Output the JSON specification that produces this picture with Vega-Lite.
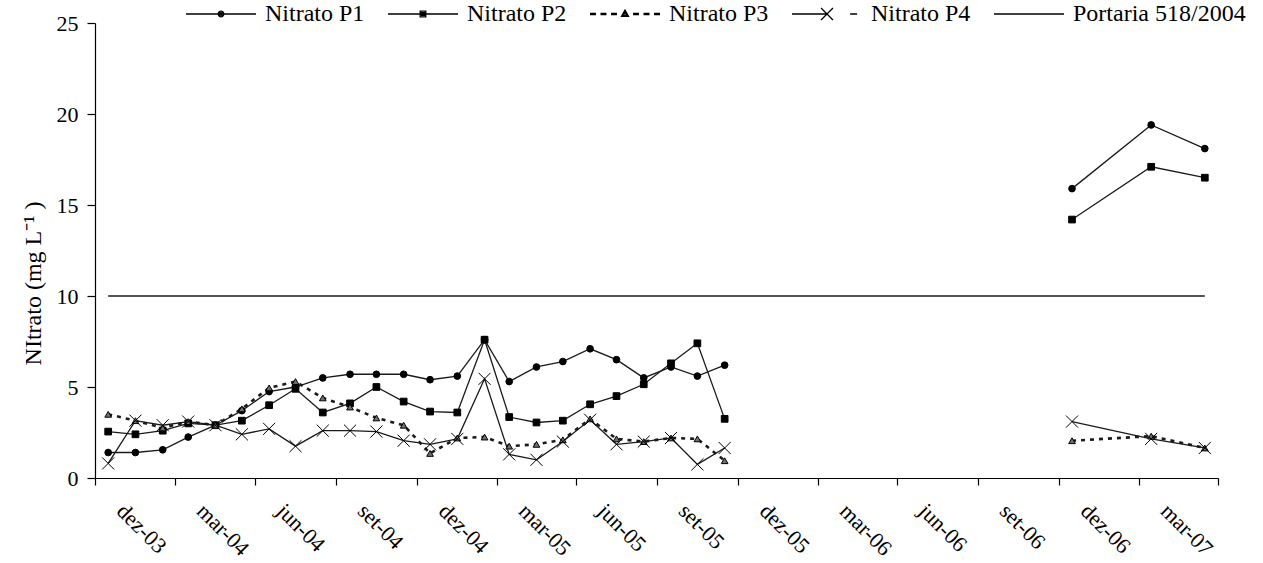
{
  "$schema": "https://vega.github.io/schema/vega-lite/v6.json",
  "width": 1123,
  "height": 455,
  "autosize": {"type": "none"},
  "padding": {"left": 95, "top": 23, "right": 45, "bottom": 85},
  "background": "white",
  "config": {"view": {"stroke": null}, "font": "Liberation Serif"},
  "datasets": {
    "nitrato": [
      {"mes": "2003-12-01", "serie": "Nitrato P1", "valor": 1.4, "campanha": 1},
      {"mes": "2004-01-01", "serie": "Nitrato P1", "valor": 1.4, "campanha": 1},
      {"mes": "2004-02-01", "serie": "Nitrato P1", "valor": 1.55, "campanha": 1},
      {"mes": "2004-03-01", "serie": "Nitrato P1", "valor": 2.25, "campanha": 1},
      {"mes": "2004-04-01", "serie": "Nitrato P1", "valor": 2.9, "campanha": 1},
      {"mes": "2004-05-01", "serie": "Nitrato P1", "valor": 3.7, "campanha": 1},
      {"mes": "2004-06-01", "serie": "Nitrato P1", "valor": 4.75, "campanha": 1},
      {"mes": "2004-07-01", "serie": "Nitrato P1", "valor": 5.0, "campanha": 1},
      {"mes": "2004-08-01", "serie": "Nitrato P1", "valor": 5.5, "campanha": 1},
      {"mes": "2004-09-01", "serie": "Nitrato P1", "valor": 5.7, "campanha": 1},
      {"mes": "2004-10-01", "serie": "Nitrato P1", "valor": 5.7, "campanha": 1},
      {"mes": "2004-11-01", "serie": "Nitrato P1", "valor": 5.7, "campanha": 1},
      {"mes": "2004-12-01", "serie": "Nitrato P1", "valor": 5.4, "campanha": 1},
      {"mes": "2005-01-01", "serie": "Nitrato P1", "valor": 5.6, "campanha": 1},
      {"mes": "2005-02-01", "serie": "Nitrato P1", "valor": 7.6, "campanha": 1},
      {"mes": "2005-03-01", "serie": "Nitrato P1", "valor": 5.3, "campanha": 1},
      {"mes": "2005-04-01", "serie": "Nitrato P1", "valor": 6.1, "campanha": 1},
      {"mes": "2005-05-01", "serie": "Nitrato P1", "valor": 6.4, "campanha": 1},
      {"mes": "2005-06-01", "serie": "Nitrato P1", "valor": 7.1, "campanha": 1},
      {"mes": "2005-07-01", "serie": "Nitrato P1", "valor": 6.5, "campanha": 1},
      {"mes": "2005-08-01", "serie": "Nitrato P1", "valor": 5.5, "campanha": 1},
      {"mes": "2005-09-01", "serie": "Nitrato P1", "valor": 6.1, "campanha": 1},
      {"mes": "2005-10-01", "serie": "Nitrato P1", "valor": 5.6, "campanha": 1},
      {"mes": "2005-11-01", "serie": "Nitrato P1", "valor": 6.2, "campanha": 1},
      {"mes": "2006-12-01", "serie": "Nitrato P1", "valor": 15.9, "campanha": 2},
      {"mes": "2007-03-01", "serie": "Nitrato P1", "valor": 19.4, "campanha": 2},
      {"mes": "2007-05-01", "serie": "Nitrato P1", "valor": 18.1, "campanha": 2},

      {"mes": "2003-12-01", "serie": "Nitrato P2", "valor": 2.55, "campanha": 1},
      {"mes": "2004-01-01", "serie": "Nitrato P2", "valor": 2.4, "campanha": 1},
      {"mes": "2004-02-01", "serie": "Nitrato P2", "valor": 2.6, "campanha": 1},
      {"mes": "2004-03-01", "serie": "Nitrato P2", "valor": 3.0, "campanha": 1},
      {"mes": "2004-04-01", "serie": "Nitrato P2", "valor": 2.9, "campanha": 1},
      {"mes": "2004-05-01", "serie": "Nitrato P2", "valor": 3.15, "campanha": 1},
      {"mes": "2004-06-01", "serie": "Nitrato P2", "valor": 4.0, "campanha": 1},
      {"mes": "2004-07-01", "serie": "Nitrato P2", "valor": 4.9, "campanha": 1},
      {"mes": "2004-08-01", "serie": "Nitrato P2", "valor": 3.6, "campanha": 1},
      {"mes": "2004-09-01", "serie": "Nitrato P2", "valor": 4.1, "campanha": 1},
      {"mes": "2004-10-01", "serie": "Nitrato P2", "valor": 5.0, "campanha": 1},
      {"mes": "2004-11-01", "serie": "Nitrato P2", "valor": 4.2, "campanha": 1},
      {"mes": "2004-12-01", "serie": "Nitrato P2", "valor": 3.65, "campanha": 1},
      {"mes": "2005-01-01", "serie": "Nitrato P2", "valor": 3.6, "campanha": 1},
      {"mes": "2005-02-01", "serie": "Nitrato P2", "valor": 7.6, "campanha": 1},
      {"mes": "2005-03-01", "serie": "Nitrato P2", "valor": 3.35, "campanha": 1},
      {"mes": "2005-04-01", "serie": "Nitrato P2", "valor": 3.05, "campanha": 1},
      {"mes": "2005-05-01", "serie": "Nitrato P2", "valor": 3.15, "campanha": 1},
      {"mes": "2005-06-01", "serie": "Nitrato P2", "valor": 4.05, "campanha": 1},
      {"mes": "2005-07-01", "serie": "Nitrato P2", "valor": 4.5, "campanha": 1},
      {"mes": "2005-08-01", "serie": "Nitrato P2", "valor": 5.15, "campanha": 1},
      {"mes": "2005-09-01", "serie": "Nitrato P2", "valor": 6.3, "campanha": 1},
      {"mes": "2005-10-01", "serie": "Nitrato P2", "valor": 7.4, "campanha": 1},
      {"mes": "2005-11-01", "serie": "Nitrato P2", "valor": 3.25, "campanha": 1},
      {"mes": "2006-12-01", "serie": "Nitrato P2", "valor": 14.2, "campanha": 2},
      {"mes": "2007-03-01", "serie": "Nitrato P2", "valor": 17.1, "campanha": 2},
      {"mes": "2007-05-01", "serie": "Nitrato P2", "valor": 16.5, "campanha": 2},

      {"mes": "2003-12-01", "serie": "Nitrato P3", "valor": 3.5, "campanha": 1},
      {"mes": "2004-01-01", "serie": "Nitrato P3", "valor": 3.15, "campanha": 1},
      {"mes": "2004-02-01", "serie": "Nitrato P3", "valor": 2.75, "campanha": 1},
      {"mes": "2004-03-01", "serie": "Nitrato P3", "valor": 3.1, "campanha": 1},
      {"mes": "2004-04-01", "serie": "Nitrato P3", "valor": 2.9, "campanha": 1},
      {"mes": "2004-05-01", "serie": "Nitrato P3", "valor": 3.8, "campanha": 1},
      {"mes": "2004-06-01", "serie": "Nitrato P3", "valor": 4.95, "campanha": 1},
      {"mes": "2004-07-01", "serie": "Nitrato P3", "valor": 5.3, "campanha": 1},
      {"mes": "2004-08-01", "serie": "Nitrato P3", "valor": 4.4, "campanha": 1},
      {"mes": "2004-09-01", "serie": "Nitrato P3", "valor": 3.9, "campanha": 1},
      {"mes": "2004-10-01", "serie": "Nitrato P3", "valor": 3.3, "campanha": 1},
      {"mes": "2004-11-01", "serie": "Nitrato P3", "valor": 2.9, "campanha": 1},
      {"mes": "2004-12-01", "serie": "Nitrato P3", "valor": 1.35, "campanha": 1},
      {"mes": "2005-01-01", "serie": "Nitrato P3", "valor": 2.2, "campanha": 1},
      {"mes": "2005-02-01", "serie": "Nitrato P3", "valor": 2.25, "campanha": 1},
      {"mes": "2005-03-01", "serie": "Nitrato P3", "valor": 1.75, "campanha": 1},
      {"mes": "2005-04-01", "serie": "Nitrato P3", "valor": 1.85, "campanha": 1},
      {"mes": "2005-05-01", "serie": "Nitrato P3", "valor": 2.1, "campanha": 1},
      {"mes": "2005-06-01", "serie": "Nitrato P3", "valor": 3.25, "campanha": 1},
      {"mes": "2005-07-01", "serie": "Nitrato P3", "valor": 2.15, "campanha": 1},
      {"mes": "2005-08-01", "serie": "Nitrato P3", "valor": 2.0, "campanha": 1},
      {"mes": "2005-09-01", "serie": "Nitrato P3", "valor": 2.2, "campanha": 1},
      {"mes": "2005-10-01", "serie": "Nitrato P3", "valor": 2.15, "campanha": 1},
      {"mes": "2005-11-01", "serie": "Nitrato P3", "valor": 0.95, "campanha": 1},
      {"mes": "2006-12-01", "serie": "Nitrato P3", "valor": 2.05, "campanha": 2},
      {"mes": "2007-03-01", "serie": "Nitrato P3", "valor": 2.3, "campanha": 2},
      {"mes": "2007-05-01", "serie": "Nitrato P3", "valor": 1.65, "campanha": 2},

      {"mes": "2003-12-01", "serie": "Nitrato P4", "valor": 0.8, "campanha": 1},
      {"mes": "2004-01-01", "serie": "Nitrato P4", "valor": 3.15, "campanha": 1},
      {"mes": "2004-02-01", "serie": "Nitrato P4", "valor": 2.9, "campanha": 1},
      {"mes": "2004-03-01", "serie": "Nitrato P4", "valor": 3.1, "campanha": 1},
      {"mes": "2004-04-01", "serie": "Nitrato P4", "valor": 2.9, "campanha": 1},
      {"mes": "2004-05-01", "serie": "Nitrato P4", "valor": 2.4, "campanha": 1},
      {"mes": "2004-06-01", "serie": "Nitrato P4", "valor": 2.7, "campanha": 1},
      {"mes": "2004-07-01", "serie": "Nitrato P4", "valor": 1.75, "campanha": 1},
      {"mes": "2004-08-01", "serie": "Nitrato P4", "valor": 2.6, "campanha": 1},
      {"mes": "2004-09-01", "serie": "Nitrato P4", "valor": 2.6, "campanha": 1},
      {"mes": "2004-10-01", "serie": "Nitrato P4", "valor": 2.55, "campanha": 1},
      {"mes": "2004-11-01", "serie": "Nitrato P4", "valor": 2.05, "campanha": 1},
      {"mes": "2004-12-01", "serie": "Nitrato P4", "valor": 1.85, "campanha": 1},
      {"mes": "2005-01-01", "serie": "Nitrato P4", "valor": 2.15, "campanha": 1},
      {"mes": "2005-02-01", "serie": "Nitrato P4", "valor": 5.45, "campanha": 1},
      {"mes": "2005-03-01", "serie": "Nitrato P4", "valor": 1.3, "campanha": 1},
      {"mes": "2005-04-01", "serie": "Nitrato P4", "valor": 1.0, "campanha": 1},
      {"mes": "2005-05-01", "serie": "Nitrato P4", "valor": 2.0, "campanha": 1},
      {"mes": "2005-06-01", "serie": "Nitrato P4", "valor": 3.2, "campanha": 1},
      {"mes": "2005-07-01", "serie": "Nitrato P4", "valor": 1.85, "campanha": 1},
      {"mes": "2005-08-01", "serie": "Nitrato P4", "valor": 2.0, "campanha": 1},
      {"mes": "2005-09-01", "serie": "Nitrato P4", "valor": 2.2, "campanha": 1},
      {"mes": "2005-10-01", "serie": "Nitrato P4", "valor": 0.75, "campanha": 1},
      {"mes": "2005-11-01", "serie": "Nitrato P4", "valor": 1.65, "campanha": 1},
      {"mes": "2006-12-01", "serie": "Nitrato P4", "valor": 3.1, "campanha": 2},
      {"mes": "2007-03-01", "serie": "Nitrato P4", "valor": 2.15, "campanha": 2},
      {"mes": "2007-05-01", "serie": "Nitrato P4", "valor": 1.65, "campanha": 2},

      {"mes": "2003-12-01", "serie": "Portaria 518/2004", "valor": 10, "campanha": 1},
      {"mes": "2007-05-01", "serie": "Portaria 518/2004", "valor": 10, "campanha": 1}
    ]
  },
  "data": {"name": "nitrato"},
  "encoding": {
    "x": {
      "field": "mes",
      "type": "temporal",
      "scale": {
        "type": "utc",
        "domain": [
          {"year": 2003, "month": 11, "date": 16, "utc": true},
          {"year": 2007, "month": 5, "date": 16, "utc": true}
        ]
      },
      "axis": {
        "title": null,
        "grid": false,
        "values": [
          {"year": 2003, "month": 11, "date": 16, "utc": true},
          {"year": 2004, "month": 2, "date": 15, "utc": true},
          {"year": 2004, "month": 5, "date": 16, "utc": true},
          {"year": 2004, "month": 8, "date": 16, "utc": true},
          {"year": 2004, "month": 11, "date": 16, "utc": true},
          {"year": 2005, "month": 2, "date": 15, "utc": true},
          {"year": 2005, "month": 5, "date": 16, "utc": true},
          {"year": 2005, "month": 8, "date": 16, "utc": true},
          {"year": 2005, "month": 11, "date": 16, "utc": true},
          {"year": 2006, "month": 2, "date": 15, "utc": true},
          {"year": 2006, "month": 5, "date": 16, "utc": true},
          {"year": 2006, "month": 8, "date": 16, "utc": true},
          {"year": 2006, "month": 11, "date": 16, "utc": true},
          {"year": 2007, "month": 2, "date": 15, "utc": true},
          {"year": 2007, "month": 5, "date": 16, "utc": true}
        ],
        "labelExpr": "utcyear(time(datum.value)) == 2007 && utcmonth(time(datum.value)) == 4 ? '' : ['jan','fev','mar','abr','mai','jun','jul','ago','set','out','nov','dez'][utcmonth(time(datum.value) + 1728000000)] + '-' + utcFormat(time(datum.value) + 1728000000, '%y')",
        "labelAngle": 45,
        "labelAlign": "left",
        "labelBaseline": "middle",
        "labelOffset": 25,
        "labelPadding": 22,
        "labelFont": "Liberation Serif",
        "labelFontSize": 22,
        "labelColor": "black",
        "labelOverlap": false,
        "labelBound": false,
        "labelFlush": false,
        "tickSize": 7,
        "tickColor": "black",
        "domainColor": "black",
        "tickWidth": 1.2,
        "domainWidth": 1.2
      }
    },
    "y": {
      "field": "valor",
      "type": "quantitative",
      "scale": {"domain": [0, 25], "nice": false, "zero": true},
      "axis": {
        "title": "NItrato (mg L⁻¹ )",
        "titleFont": "Liberation Serif",
        "titleFontSize": 24,
        "titleFontWeight": "normal",
        "titleColor": "black",
        "titlePadding": 11,
        "titleY": 260,
        "grid": false,
        "values": [0, 5, 10, 15, 20, 25],
        "labelFont": "Liberation Serif",
        "labelFontSize": 22,
        "labelColor": "black",
        "labelPadding": 9,
        "tickSize": 8,
        "tickColor": "black",
        "domainColor": "black",
        "tickWidth": 1.2,
        "domainWidth": 1.2
      }
    }
  },
  "layer": [
    {
      "transform": [{"filter": "datum.serie !== 'Nitrato P3'"}],
      "mark": {"type": "line", "color": "#1a1a1a", "strokeWidth": 1.3},
      "encoding": {"detail": [{"field": "serie"}, {"field": "campanha"}]}
    },
    {
      "transform": [{"filter": "datum.serie === 'Nitrato P3'"}],
      "mark": {"type": "line", "color": "#1a1a1a", "strokeWidth": 2.6, "strokeDash": [4, 5]},
      "encoding": {"detail": {"field": "campanha"}}
    },
    {
      "transform": [{"filter": "datum.serie !== 'Portaria 518/2004'"}],
      "mark": {"type": "point", "filled": true, "size": 45, "stroke": "black", "strokeWidth": 1, "opacity": 1},
      "encoding": {
        "fill": {
          "field": "serie",
          "type": "nominal",
          "scale": {"domain": ["Nitrato P1", "Nitrato P2", "Nitrato P3", "Nitrato P4"], "range": ["black", "black", "#707070", "black"]},
          "legend": null
        },
        "shape": {
          "field": "serie",
          "type": "nominal",
          "scale": {
            "domain": ["Nitrato P1", "Nitrato P2", "Nitrato P3", "Nitrato P4"],
            "range": ["circle", "square", "triangle-up", "M-1.8,-1.8L1.8,1.8M-1.8,1.8L1.8,-1.8"]
          },
          "legend": null
        }
      }
    },
    {
      "mark": {"type": "point", "filled": false, "size": 4900, "opacity": 0, "color": "black", "strokeWidth": 1.3},
      "encoding": {
        "shape": {
          "field": "serie",
          "type": "nominal",
          "scale": {
            "domain": ["Nitrato P1", "Nitrato P2", "Nitrato P3", "Nitrato P4", "Portaria 518/2004"],
            "range": [
              "M-1,0H1M0.08,0A0.08,0.08,0,1,1,-0.08,0A0.08,0.08,0,1,1,0.08,0M0.04,0A0.04,0.04,0,1,1,-0.04,0A0.04,0.04,0,1,1,0.04,0",
              "M-1,0H1M-0.08,-0.08H0.08V0.08H-0.08ZM-0.04,-0.04H0.04V0.04H-0.04ZM-0.01,0H0.01",
              "M-1,-0.02H-0.83M-1,0.02H-0.83M-0.7,-0.02H-0.53M-0.7,0.02H-0.53M-0.4,-0.02H-0.23M-0.4,0.02H-0.23M0.23,-0.02H0.4M0.23,0.02H0.4M0.53,-0.02H0.7M0.53,0.02H0.7M0.83,-0.02H1M0.83,0.02H1M0,-0.11L0.1,0.07L-0.1,0.07ZM0,-0.05L0.05,0.04L-0.05,0.04Z",
              "M-1,0H0M-0.17,-0.17L0.17,0.17M-0.17,0.17L0.17,-0.17M0.66,0H0.86",
              "M-1,0H1"
            ]
          },
          "legend": {
            "orient": "none",
            "legendX": 90,
            "legendY": -45,
            "direction": "horizontal",
            "title": null,
            "symbolSize": 4900,
            "symbolOpacity": 1,
            "symbolStrokeColor": "black",
            "symbolStrokeWidth": 1.3,
            "labelFont": "Liberation Serif",
            "labelFontSize": 24,
            "labelColor": "black",
            "labelOffset": 8,
            "columnPadding": 20,
            "labelLimit": 400
          }
        }
      }
    }
  ],
  "resolve": {"scale": {"shape": "independent"}, "legend": {"shape": "independent"}}
}
